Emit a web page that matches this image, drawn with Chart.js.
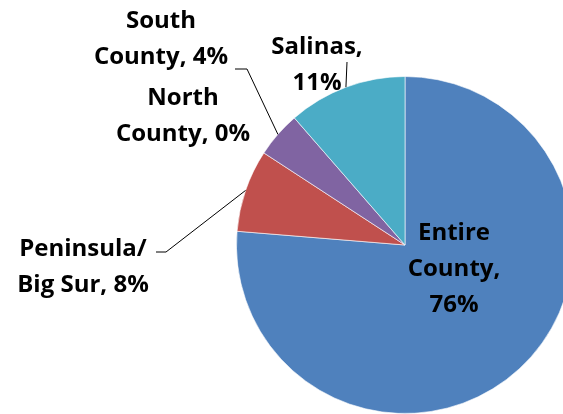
<!DOCTYPE html>
<html lang="en">
<head>
    <meta charset="UTF-8">
    <title>Share by Region</title>
    <script src="https://cdn.jsdelivr.net/npm/chart.js"></script>
    <style>
      html, body { margin: 0; padding: 0; background: #fff; overflow: hidden; }
      #wrap { position: absolute; left: 0; top: 0; width: 600px; height: 430px; }
    </style>
</head>
<body>
    <div id="wrap">
      <canvas id="regionChart" width="600" height="430"></canvas>
    </div>

    <script>
      // Data (clockwise from 12 o'clock)
      const regions = ['Entire County', 'Peninsula/ Big Sur', 'North County', 'South County', 'Salinas'];
      const shares = [76.3, 7.9, 0, 4.4, 11.4];
      const sliceColors = ['#4F81BD', '#C0504D', '#9BBB59', '#8064A2', '#4BACC6'];

      // How each label is broken into lines ({p} = rounded percent)
      const labelLines = [
        ['Entire', 'County,', '{p}'],
        ['Peninsula/', 'Big Sur, {p}'],
        ['North', 'County, {p}'],
        ['South', 'County, {p}'],
        ['Salinas,', '{p}']
      ];

      // Label placement: centre x, first baseline y, optional leader elbow
      const labelSpots = [
        { x: 454, y: 240, leader: null },
        { x: 83, y: 256, leader: { x1: 156, x2: 166, y: 252 } },
        { x: 183, y: 105, leader: null },
        { x: 161, y: 28, leader: { x1: 235, x2: 247, y: 69 } },
        { x: 317, y: 54, leader: { x1: 347, x2: 347, y: 62 } }
      ];

      const pieLabels = {
        id: 'pieLabels',
        afterDatasetsDraw(chart) {
          const ctx = chart.ctx;
          const arcs = chart.getDatasetMeta(0).data;
          ctx.save();
          ctx.fillStyle = '#000';
          ctx.strokeStyle = '#000';
          ctx.lineWidth = 1;
          ctx.font = 'bold 24px "Open Sans"';
          ctx.textAlign = 'center';
          ctx.textBaseline = 'alphabetic';

          arcs.forEach((arc, i) => {
            const spot = labelSpots[i];
            const pct = Math.round(shares[i]) + '%';
            labelLines[i].forEach((line, j) => {
              ctx.fillText(line.replace('{p}', pct), spot.x, spot.y + j * 36);
            });

            if (spot.leader) {
              const { x, y, startAngle, endAngle, outerRadius } = arc.getProps(['x', 'y', 'startAngle', 'endAngle', 'outerRadius'], true);
              const mid = (startAngle + endAngle) / 2;
              const ex = x + Math.cos(mid) * outerRadius;
              const ey = y + Math.sin(mid) * outerRadius;
              ctx.beginPath();
              ctx.moveTo(spot.leader.x1, spot.leader.y);
              ctx.lineTo(spot.leader.x2, spot.leader.y);
              ctx.lineTo(ex, ey);
              ctx.stroke();
            }
          });
          ctx.restore();
        }
      };

      new Chart(document.getElementById('regionChart'), {
        type: 'pie',
        data: {
          labels: regions,
          datasets: [{
            data: shares,
            backgroundColor: sliceColors,
            borderColor: 'rgba(255, 255, 255, 0.6)',
            borderWidth: 1
          }]
        },
        options: {
          responsive: false,
          animation: false,
          layout: {
            padding: { left: 236, right: 26, top: 76, bottom: 16 }
          },
          plugins: {
            legend: { display: false },
            tooltip: { enabled: false }
          }
        },
        plugins: [pieLabels]
      });
    </script>
</body>
</html>
